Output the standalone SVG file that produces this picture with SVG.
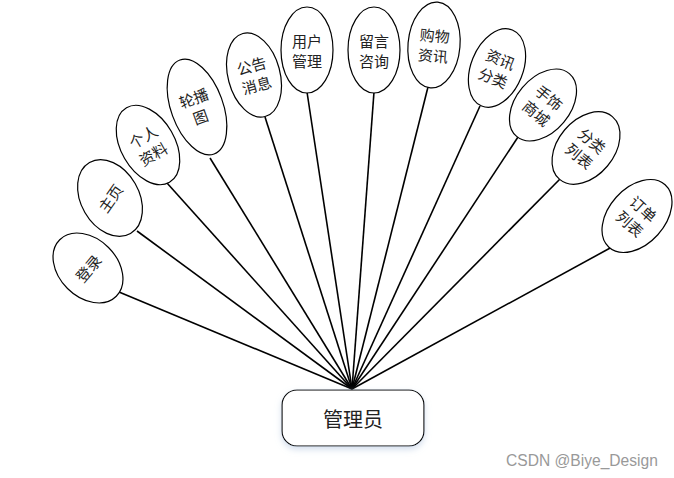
<svg xmlns="http://www.w3.org/2000/svg" width="674" height="478" viewBox="0 0 674 478">
<defs>
<style>
.e{fill:#fff;stroke:#000;stroke-width:1.2}
.t{font-family:"Noto Sans CJK SC","Liberation Sans",sans-serif;font-size:15px;fill:#222;text-anchor:middle;dominant-baseline:central}
.c line{stroke:#000;stroke-width:1.6}
.w{font-family:"Liberation Sans",Arial,sans-serif;font-size:15.6px;fill:#999}
</style>
<filter id="sh" x="-20%" y="-30%" width="140%" height="170%">
<feDropShadow dx="0" dy="3" stdDeviation="3" flood-color="#c8d6e8" flood-opacity="0.8"/>
</filter>
</defs>
<rect width="674" height="478" fill="#fff"/>
<g class="c" id="connectors">
<line x1="119" y1="292" x2="352" y2="389"/>
<line x1="137" y1="231" x2="352" y2="389"/>
<line x1="167" y1="183" x2="352" y2="389"/>
<line x1="210" y1="158" x2="352" y2="389"/>
<line x1="265" y1="117" x2="352" y2="389"/>
<line x1="307" y1="92" x2="352" y2="389"/>
<line x1="374" y1="92" x2="352" y2="389"/>
<line x1="428" y1="87" x2="352" y2="389"/>
<line x1="480" y1="106" x2="352" y2="389"/>
<line x1="518" y1="137" x2="352" y2="389"/>
<line x1="560" y1="179" x2="352" y2="389"/>
<line x1="612" y1="247" x2="352" y2="389"/>
</g>
<g id="n1" transform="translate(88,268)"><ellipse class="e" rx="29" ry="40" transform="rotate(-45)"/><text class="t" x="0" y="0" transform="rotate(-50)">登录</text></g>
<g id="n2" transform="translate(110,198)"><ellipse class="e" rx="29" ry="41" transform="rotate(-30)"/><text class="t" x="0" y="0" transform="rotate(-55)">主页</text></g>
<g id="n3" transform="translate(148,145) rotate(-30)"><ellipse class="e" rx="27" ry="43"/><text class="t" x="0" y="-10">个人</text><text class="t" x="0" y="10">资料</text></g>
<g id="n4" transform="translate(197,107) rotate(-20)"><ellipse class="e" rx="26" ry="50"/><text class="t" x="0" y="-10">轮播</text><text class="t" x="0" y="10">图</text></g>
<g id="n5" transform="translate(254,75) rotate(-15)"><ellipse class="e" rx="26" ry="43"/><text class="t" x="0" y="-10">公告</text><text class="t" x="0" y="10">消息</text></g>
<g id="n6" transform="translate(307,50)"><ellipse class="e" rx="26" ry="43"/><text class="t" x="0" y="-10" fill="#000">用户</text><text class="t" x="0" y="10" fill="#000">管理</text></g>
<g id="n7" transform="translate(374,50)"><ellipse class="e" rx="26" ry="43"/><text class="t" x="0" y="-10" fill="#000">留言</text><text class="t" x="0" y="10" fill="#000">咨询</text></g>
<g id="n8" transform="translate(434,45) rotate(5)"><ellipse class="e" rx="26" ry="43"/><text class="t" x="0" y="-10">购物</text><text class="t" x="0" y="10">资讯</text></g>
<g id="n9" transform="translate(497,68) rotate(22)"><ellipse class="e" rx="26" ry="41"/><text class="t" x="0" y="-10">资讯</text><text class="t" x="0" y="10">分类</text></g>
<g id="n10" transform="translate(543,105) rotate(40)"><ellipse class="e" rx="27" ry="41"/><text class="t" x="0" y="-10" fill="#000">手饰</text><text class="t" x="0" y="10" fill="#000">商城</text></g>
<g id="n11" transform="translate(586,148) rotate(40)"><ellipse class="e" rx="28" ry="41"/><text class="t" x="0" y="-10">分类</text><text class="t" x="0" y="10">列表</text></g>
<g id="n12" transform="translate(637,216) rotate(42)"><ellipse class="e" rx="28" ry="42"/><text class="t" x="0" y="-10">订单</text><text class="t" x="0" y="10">列表</text></g>
<g id="admin"><rect x="282" y="390" width="142" height="56" rx="15" ry="15" fill="#fff" stroke="#000" stroke-width="1.2" filter="url(#sh)"/><text class="t" x="353" y="418" style="font-size:20px" fill="#000">管理员</text></g>
<text class="w" x="506" y="466">CSDN @Biye_Design</text>
</svg>
